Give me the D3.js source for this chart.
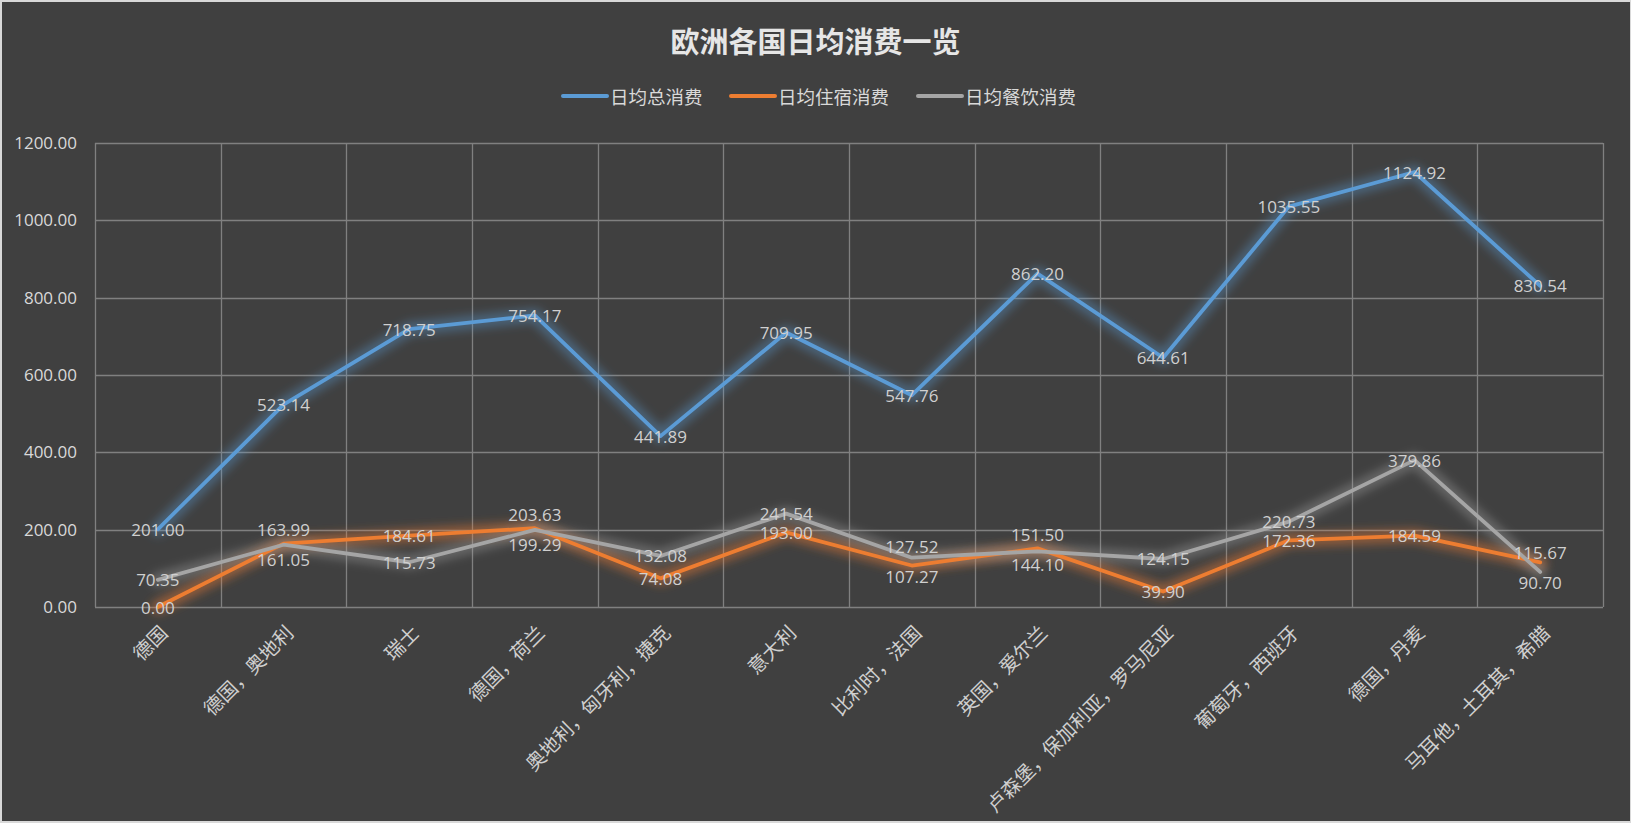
<!DOCTYPE html>
<html><head><meta charset="utf-8">
<script src="https://cdn.jsdelivr.net/npm/d3@7"></script>
<style>
html,body{margin:0;padding:0;background:#404040;}
svg{display:block;}
text{font-family:"Open Sans","Noto Sans CJK SC",sans-serif;}
</style></head>
<body>
<svg id="chart" width="1631" height="823"></svg>
<script>
const categories = ["德国","德国，奥地利","瑞士","德国，荷兰","奥地利，匈牙利，捷克","意大利","比利时，法国","英国，爱尔兰","卢森堡，保加利亚，罗马尼亚","葡萄牙，西班牙","德国，丹麦","马耳他，土耳其，希腊"];
const totalSpend = [201.00,523.14,718.75,754.17,441.89,709.95,547.76,862.20,644.61,1035.55,1124.92,830.54];
const lodgingSpend = [0.00,163.99,184.61,203.63,74.08,193.00,107.27,151.50,39.90,172.36,184.59,115.67];
const diningSpend = [70.35,161.05,115.73,199.29,132.08,241.54,127.52,144.10,124.15,220.73,379.86,90.70];
const seriesNames = ["日均总消费","日均住宿消费","日均餐饮消费"];
const yTicks = [0,200,400,600,800,1000,1200];
const titleText = "欧洲各国日均消费一览";

const colors = ["#5B9BD5","#ED7D31","#A5A5A5"];
const series = [totalSpend, lodgingSpend, diningSpend];

const W = 1631, H = 823;
const svg = d3.select("#chart");
const defs = svg.append("defs");
const f = defs.append("filter").attr("id","glow").attr("x","-20%").attr("y","-50%").attr("width","140%").attr("height","200%");
f.append("feGaussianBlur").attr("stdDeviation",5);

// border + background
svg.append("rect").attr("x",0).attr("y",0).attr("width",W).attr("height",H).attr("fill","#d9d9d9");
svg.append("rect").attr("x",2).attr("y",2).attr("width",W-3).attr("height",H-4).attr("fill","#404040");

const pL = 95, pR = 1603, pT = 143, pB = 607;
const x = d3.scaleBand().domain(categories).range([pL,pR]).paddingInner(0).paddingOuter(0);
const y = d3.scaleLinear().domain([0,1200]).range([pB,pT]);
const cx = c => x(c) + x.bandwidth()/2;

// gridlines
const g = svg.append("g");
g.selectAll("line.h").data(yTicks).join("line")
  .attr("x1",pL).attr("x2",pR).attr("y1",d=>Math.round(y(d))+0.5).attr("y2",d=>Math.round(y(d))+0.5)
  .attr("stroke","#808080").attr("stroke-width",1.3);
const vb = categories.map(c=>x(c)).concat([pR]);
g.selectAll("line.v").data(vb).join("line")
  .attr("x1",d=>Math.round(d)+0.5).attr("x2",d=>Math.round(d)+0.5).attr("y1",pT).attr("y2",pB)
  .attr("stroke","#808080").attr("stroke-width",1.3);

// y axis labels
const yAxis = d3.axisLeft(y).tickValues(yTicks).tickFormat(d=>d3.format(".2f")(d)).tickSize(0).tickPadding(18);
const ya = svg.append("g").attr("transform",`translate(${pL},0)`).call(yAxis);
ya.select(".domain").remove();
ya.attr("font-family",null);
ya.selectAll("text").attr("fill","#d9d9d9").style("font-size","17px");

// x axis labels
const xAxis = d3.axisBottom(x).tickSize(0).tickFormat(d=>d);
const xa = svg.append("g").attr("transform",`translate(0,${pB})`).call(xAxis);
xa.select(".domain").remove();
xa.attr("font-family",null);
xa.selectAll("text")
  .attr("fill","#cfcfcf").style("font-size","19.5px")
  .attr("text-anchor","end").attr("dominant-baseline","central")
  .attr("dy",null).attr("y",null)
  .attr("transform","translate(6,22) rotate(-45)");

// lines
const line = d3.line().x((d,i)=>cx(categories[i])).y(d=>y(d));
series.forEach((s,k)=>{
  svg.append("path").datum(s).attr("d",line).attr("fill","none")
    .attr("stroke",colors[k]).attr("stroke-width",14).attr("stroke-opacity",k===1?0.45:0.38)
    .attr("stroke-linejoin","round").attr("stroke-linecap","round").attr("filter","url(#glow)");
});
series.forEach((s,k)=>{
  svg.append("path").datum(s).attr("d",line).attr("fill","none")
    .attr("stroke",colors[k]).attr("stroke-width",3.8)
    .attr("stroke-linejoin","round").attr("stroke-linecap","round");
});

// data labels with simple overlap avoidance
const labels = [];
categories.forEach((c,i)=>{
  const items = series.map((s,k)=>({k, v:s[i], x:cx(c), y:y(s[i])}));
  const a = items[1], b = items[2];
  if (Math.abs(a.y-b.y) < 14){
    const mid = (a.y+b.y)/2;
    const upper = a.y <= b.y ? a : b, lower = upper===a ? b : a;
    upper.ly = mid-15; lower.ly = mid+15;
  }
  items.forEach(it=>{ if(it.ly===undefined) it.ly = it.y; labels.push(it); });
});
svg.append("g").selectAll("text").data(labels).join("text")
  .attr("x",d=>d.x).attr("y",d=>d.ly).attr("text-anchor","middle").attr("dominant-baseline","central")
  .attr("fill","#d0d0d0").style("font-size","17px").text(d=>d3.format(".2f")(d.v));

// title
svg.append("text").attr("x",W/2).attr("y",41).attr("text-anchor","middle").attr("dominant-baseline","central")
  .attr("fill","#e6e6e6").style("font-size","29px").style("font-weight","bold").text(titleText);

// legend
const legX = [563, 731, 918];
const leg = svg.append("g");
seriesNames.forEach((n,k)=>{
  leg.append("line").attr("x1",legX[k]).attr("x2",legX[k]+44).attr("y1",96).attr("y2",96)
    .attr("stroke",colors[k]).attr("stroke-width",4).attr("stroke-linecap","round");
  leg.append("text").attr("x",legX[k]+47).attr("y",96).attr("dominant-baseline","central")
    .attr("fill","#d9d9d9").style("font-size","18.5px").text(n);
});
</script>
</body></html>
